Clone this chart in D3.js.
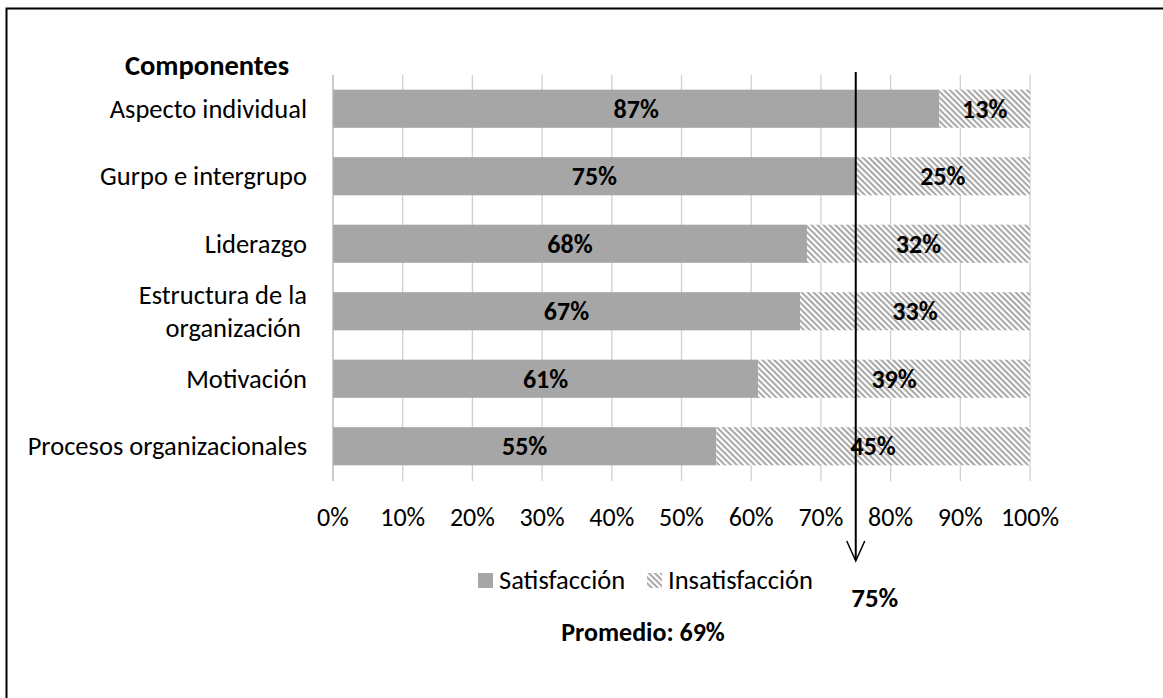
<!DOCTYPE html>
<html><head><meta charset="utf-8">
<script src="https://cdn.jsdelivr.net/npm/d3@7"></script>
<style>
body{margin:0;background:#fff;}
svg text{font-family:Carlito,Lato,"Open Sans",sans-serif;}
</style></head>
<body>
<svg id="chart" width="1163" height="698"></svg>
<script>
const categories = ["Aspecto individual","Gurpo e intergrupo","Liderazgo","Estructura de la organización","Motivación","Procesos organizacionales"];
const categoryLines = [["Aspecto individual"],["Gurpo e intergrupo"],["Liderazgo"],["Estructura de la","organización "],["Motivación"],["Procesos organizacionales"]];
const satisfaccion = [87,75,68,67,61,55];
const insatisfaccion = [13,25,32,33,39,45];
const seriesNames = ["Satisfacción","Insatisfacción"];
const xTicks = [0,10,20,30,40,50,60,70,80,90,100];
const promedioLine = 75;
const promedioText = "Promedio: 69%";

const svg = d3.select("#chart");
const defs = svg.append("defs");
const pat = defs.append("pattern").attr("id","hatch").attr("patternUnits","userSpaceOnUse")
  .attr("width",4.2).attr("height",4.2).attr("patternTransform","rotate(45)");
pat.append("rect").attr("width",4.2).attr("height",4.2).attr("fill","#fff");
pat.append("rect").attr("x",0).attr("y",0).attr("width",4.2).attr("height",2).attr("fill","#a6a6a6");

// outer border
svg.append("rect").attr("x",6.5).attr("y",8.5).attr("width",1200).attr("height",800)
  .attr("fill","none").attr("stroke","#000").attr("stroke-width",2);

const x = d3.scaleLinear().domain([0,100]).range([333,1030]);
const y = d3.scaleBand().domain(categories).range([75,480]).paddingInner(0.435).paddingOuter(0.2175);

// gridlines
svg.append("g").selectAll("line").data(xTicks.slice(1)).join("line")
  .attr("x1",d=>x(d)).attr("x2",d=>x(d)).attr("y1",75).attr("y2",481)
  .attr("stroke","#d0d0d0").attr("stroke-width",1.3);

// bars
const rows = categories.map((c,i)=>({c, s:satisfaccion[i], n:insatisfaccion[i]}));
svg.append("g").selectAll("rect").data(rows).join("rect")
  .attr("x",x(0)).attr("y",d=>y(d.c)).attr("width",d=>x(d.s)-x(0)).attr("height",y.bandwidth())
  .attr("fill","#a6a6a6");
svg.append("g").selectAll("rect").data(rows).join("rect")
  .attr("x",d=>x(d.s)).attr("y",d=>y(d.c)).attr("width",d=>x(d.s+d.n)-x(d.s)).attr("height",y.bandwidth())
  .attr("fill","url(#hatch)");

// left axis line
svg.append("line").attr("x1",x(0)).attr("x2",x(0)).attr("y1",75).attr("y2",481)
  .attr("stroke","#b0b0b0").attr("stroke-width",1.3);

// x tick labels
svg.append("g").selectAll("text").data(xTicks).join("text")
  .attr("x",d=>x(d)).attr("y",526).attr("text-anchor","middle")
  .attr("font-size",26).attr("fill","#000").text(d=>d+"%");

// category labels
const cl = svg.append("g").selectAll("text").data(categories).join("text")
  .attr("text-anchor","end").attr("font-size",26.5).attr("fill","#000")
  .attr("transform",(d,i)=>`translate(307,${y(d)+y.bandwidth()/2})`)
  .style("white-space","pre");
cl.each(function(d,i){
  const lines = categoryLines[i];
  const t = d3.select(this);
  lines.forEach((l,j)=>{
    t.append("tspan").attr("x",0).attr("dy", j===0 ? (9 - (lines.length-1)*16.5) : 33).text(l);
  });
});

svg.append("text").attr("x",207).attr("y",75).attr("text-anchor","middle")
  .attr("font-size",28.5).attr("font-weight","bold").text("Componentes");

// data labels
svg.append("g").selectAll("text").data(rows).join("text")
  .attr("x",d=>(x(0)+x(d.s))/2).attr("y",d=>y(d.c)+y.bandwidth()/2+9)
  .attr("text-anchor","middle").attr("font-size",26).attr("font-weight","bold").text(d=>d.s+"%");
svg.append("g").selectAll("text").data(rows).join("text")
  .attr("x",d=>(x(d.s)+x(d.s+d.n))/2).attr("y",d=>y(d.c)+y.bandwidth()/2+9)
  .attr("text-anchor","middle").attr("font-size",26).attr("font-weight","bold").text(d=>d.n+"%");

// arrow
const ax = x(promedioLine);
svg.append("line").attr("x1",ax).attr("x2",ax).attr("y1",72).attr("y2",560)
  .attr("stroke","#000").attr("stroke-width",2);
svg.append("path").attr("d",`M${ax-9},${541} L${ax},${561} L${ax+9},${541}`)
  .attr("fill","none").attr("stroke","#000").attr("stroke-width",1.5);
svg.append("text").attr("x",ax+19).attr("y",607).attr("text-anchor","middle")
  .attr("font-size",27).attr("font-weight","bold").text(promedioLine+"%");

// legend
const lg = svg.append("g");
lg.append("rect").attr("x",478).attr("y",573).attr("width",15).attr("height",15).attr("fill","#a6a6a6");
lg.append("text").attr("x",499).attr("y",589).attr("font-size",26.5).text(seriesNames[0]);
lg.append("rect").attr("x",647).attr("y",573).attr("width",15).attr("height",15).attr("fill","url(#hatch)");
lg.append("text").attr("x",668).attr("y",589).attr("font-size",26.5).text(seriesNames[1]);

svg.append("text").attr("x",643).attr("y",641).attr("text-anchor","middle")
  .attr("font-size",26).attr("font-weight","bold").text(promedioText);
</script>
</body></html>
